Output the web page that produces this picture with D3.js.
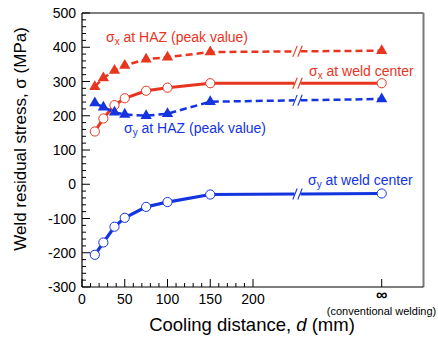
<!DOCTYPE html>
<html><head><meta charset="utf-8">
<script src="https://cdn.jsdelivr.net/npm/d3@7"></script>
<style>
html,body{margin:0;padding:0;background:#fff;}
text{font-family:"Liberation Sans",Arial,Helvetica,sans-serif;}
</style></head>
<body><svg id="c" width="438" height="338"></svg>
<script>
// ---- data ----
const distances = [15, 25, 38, 50, 75, 100, 150, Infinity];
const sxHAZ    = [285, 310, 332, 347, 365, 371, 386, 390];
const sxCenter = [154, 192, 231, 251, 273, 282, 295, 295];
const syHAZ    = [237, 225, 210, 204, 200, 206, 241, 249];
const syCenter = [-206, -170, -124, -98, -66, -52, -30, -27];
const yTicks = [-300, -200, -100, 0, 100, 200, 300, 400, 500];
const xTicks = [0, 50, 100, 150, 200];
const infLabel = "∞";

const RED = "#e8351f", BLUE = "#1434e0";
const svg = d3.select("#c");
const L = 82, R = 423.5, T = 13, B = 287;
const x = d3.scaleLinear().domain([0, 200]).range([L, 253]);
const xInf = 381.7, xBreak = 297.5;
const xp = d => isFinite(d) ? x(d) : xInf;
const y = d3.scaleLinear().domain([-300, 500]).range([B, T]);

// frame
svg.append("line").attr("x1",L).attr("x2",R).attr("y1",T).attr("y2",T).attr("stroke","#000").attr("stroke-width",1.2);
svg.append("line").attr("x1",R).attr("x2",R).attr("y1",T).attr("y2",B).attr("stroke","#7a7a7a").attr("stroke-width",2);
svg.append("line").attr("x1",L).attr("x2",R).attr("y1",B).attr("y2",B).attr("stroke","#000").attr("stroke-width",1.2);
svg.append("line").attr("x1",L).attr("x2",L).attr("y1",T).attr("y2",B).attr("stroke","#000").attr("stroke-width",1.2);

// y ticks (inward)
const yMinor = d3.range(-300, 501, 20);
svg.selectAll(".ym").data(yMinor).enter().append("line")
  .attr("x1",L).attr("x2",d => d % 100 === 0 ? L+8 : L+4)
  .attr("y1",d=>y(d)).attr("y2",d=>y(d)).attr("stroke","#000").attr("stroke-width",1);
svg.selectAll(".yl").data(yTicks).enter().append("text")
  .attr("x",L-6).attr("y",d=>y(d)+5).attr("text-anchor","end")
  .attr("font-size",14).text(d=>d);

// x ticks (inward)
const xMinor = d3.range(0, 201, 10);
svg.selectAll(".xm").data(xMinor).enter().append("line")
  .attr("x1",d=>x(d)).attr("x2",d=>x(d))
  .attr("y1",B).attr("y2",d => d % 50 === 0 ? B-8 : B-4).attr("stroke","#000").attr("stroke-width",1);
svg.append("line").attr("x1",xInf).attr("x2",xInf).attr("y1",B).attr("y2",B-8).attr("stroke","#000").attr("stroke-width",1);
svg.selectAll(".xl").data(xTicks).enter().append("text")
  .attr("x",d=>x(d)).attr("y",B+17).attr("text-anchor","middle")
  .attr("font-size",14).text(d=>d);
svg.append("text").attr("x",xInf).attr("y",B+13).attr("text-anchor","middle")
  .attr("font-size",16).attr("font-weight","bold").text(infLabel);
svg.append("text").attr("x",381.5).attr("y",B+28).attr("text-anchor","middle")
  .attr("font-size",11).text("(conventional welding)");

// axis titles
const xt = svg.append("text").attr("x",252).attr("y",331).attr("text-anchor","middle").attr("font-size",18.5);
xt.append("tspan").text("Cooling distance, ");
xt.append("tspan").attr("font-style","italic").text("d");
xt.append("tspan").text(" (mm)");
svg.append("text").attr("transform","translate(26,139) rotate(-90)").attr("text-anchor","middle")
  .attr("font-size",17).text("Weld residual stress, σ (MPa)");

// series
const series = [
  {vals: sxHAZ, color: RED, dash: "7,4", marker: "tri", w: 2.5},
  {vals: sxCenter, color: RED, dash: null, marker: "circ", w: 3},
  {vals: syHAZ, color: BLUE, dash: "7,4", marker: "tri", w: 2.5},
  {vals: syCenter, color: BLUE, dash: null, marker: "circ", w: 3.2},
];
const line = d3.line().x(d=>d[0]).y(d=>d[1]);
series.forEach(s => {
  const pts = distances.map((d,i)=>[xp(d), y(s.vals[i])]);
  const n = pts.length;
  const finite = pts.slice(0, n-1);
  const p0 = pts[n-2], p1 = pts[n-1];
  const yb = t => p0[1] + (p1[1]-p0[1])*(t-p0[0])/(p1[0]-p0[0]);
  const g = svg.append("g");
  const styl = sel => sel.attr("fill","none").attr("stroke",s.color).attr("stroke-width",s.w)
      .attr("stroke-dasharray",s.dash);
  g.append("path").attr("d", line(finite.concat([[xBreak-3, yb(xBreak-3)]]))).call(styl);
  g.append("path").attr("d", line([[xBreak+3, yb(xBreak+3)], p1])).call(styl);
  [-2.5, 2.5].forEach(o => {
    const cx = xBreak + o, cy = yb(cx);
    g.append("line").attr("x1",cx-2.2).attr("y1",cy+5.5).attr("x2",cx+2.2).attr("y2",cy-5.5)
      .attr("stroke",s.color).attr("stroke-width",1.1);
  });
  if (s.marker === "circ") {
    g.selectAll("circle").data(pts).enter().append("circle")
      .attr("cx",d=>d[0]).attr("cy",d=>d[1]).attr("r",4.6)
      .attr("fill","#fff").attr("stroke",s.color).attr("stroke-width",1);
  } else {
    const sym = d3.symbol().type(d3.symbolTriangle).size(55);
    g.selectAll("path.m").data(pts).enter().append("path").attr("class","m")
      .attr("transform",d=>`translate(${d[0]},${d[1]})`).attr("d",sym())
      .attr("fill",s.color);
  }
});

// annotations
function ann(xx, yy, sub, rest, color) {
  const t = svg.append("text").attr("x",xx).attr("y",yy).attr("font-size",14).attr("fill",color);
  t.append("tspan").text("σ");
  t.append("tspan").attr("font-size",10).attr("dy",3).text(sub);
  t.append("tspan").attr("dy",-3).text(" " + rest);
}
ann(106, 42, "x", "at HAZ (peak value)", RED);
ann(309, 76, "x", "at weld center", RED);
ann(124, 133, "y", "at HAZ (peak value)", BLUE);
ann(308, 185, "y", "at weld center", BLUE);
</script></body></html>
